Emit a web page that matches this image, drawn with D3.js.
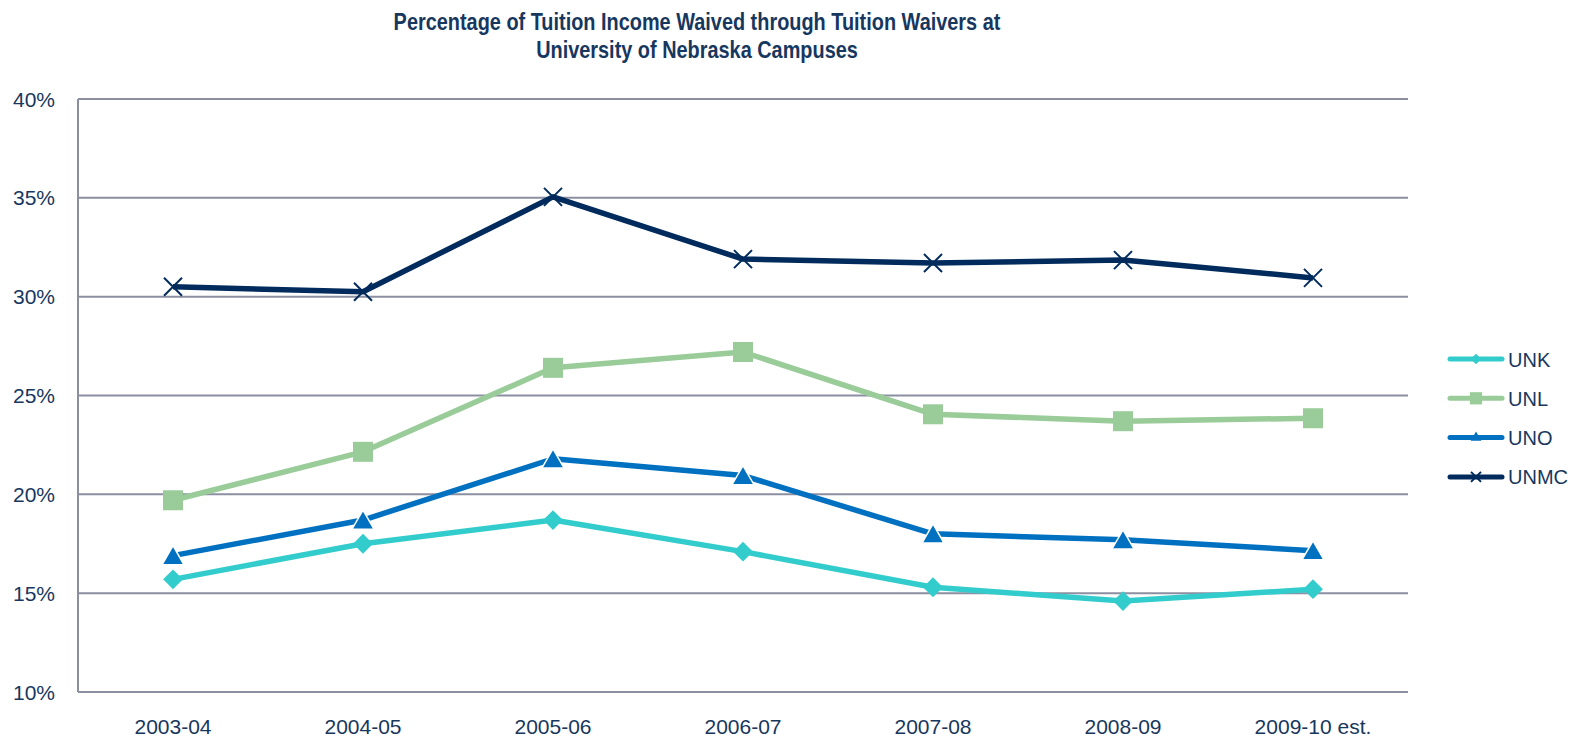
<html>

<head>
  <title>Tuition Waivers</title>
  <script type="text/javascript" src="https://cdn.jsdelivr.net/npm/d3@7"></script>

  <style type="text/css">
    body { margin: 0; background: #fff; }
    text { font-family: "Liberation Sans", Arial, sans-serif; fill: #17375e; }
    .grid line { stroke: #8c8fa1; stroke-width: 2; }
    .series { fill: none; stroke-width: 5.5; stroke-linejoin: round; }
  </style>
</head>

<body>
  <script>
  // Width and height
  const w = 1586;
  const h = 739;
  const margin = { top: 99, right: 178, bottom: 47, left: 78 };

  // Data (percent)
  const years = ["2003-04", "2004-05", "2005-06", "2006-07", "2007-08", "2008-09", "2009-10 est."];
  const unk = [15.7, 17.5, 18.7, 17.1, 15.3, 14.6, 15.2];
  const unl = [19.7, 22.15, 26.4, 27.2, 24.05, 23.7, 23.85];
  const uno = [16.9, 18.7, 21.8, 20.95, 18.0, 17.7, 17.15];
  const unmc = [30.5, 30.25, 35.05, 31.9, 31.7, 31.85, 30.95];
  const seriesNames = ["UNK", "UNL", "UNO", "UNMC"];
  const yTicks = [10, 15, 20, 25, 30, 35, 40];

  const series = [
    { name: "UNK", values: unk, color: "#33cccc", marker: "diamond" },
    { name: "UNL", values: unl, color: "#99cc99", marker: "square" },
    { name: "UNO", values: uno, color: "#0070c0", marker: "triangle" },
    { name: "UNMC", values: unmc, color: "#002b5c", marker: "cross" }
  ];

  const xScale = d3.scaleBand()
    .domain(years)
    .range([margin.left, w - margin.right]);

  const xc = function(d) { return xScale(d) + xScale.bandwidth() / 2; };

  const yScale = d3.scaleLinear()
    .domain([10, 40])
    .range([h - margin.bottom, margin.top]);

  const svg = d3.select("body")
    .append("svg")
    .attr("width", w)
    .attr("height", h);

  // Title (slightly condensed, like the original)
  const title = svg.append("g")
    .attr("transform", "translate(697,0) scale(0.865,1)")
    .append("text")
    .attr("x", 0)
    .attr("y", 30)
    .attr("text-anchor", "middle")
    .style("font-size", "23px")
    .style("font-weight", "bold");
  title.append("tspan").attr("x", 0).text("Percentage of Tuition Income Waived through Tuition Waivers at");
  title.append("tspan").attr("x", 0).attr("dy", 28.5).text("University of Nebraska Campuses");

  // Gridlines
  svg.append("g")
    .attr("class", "grid")
    .selectAll("line")
    .data(yTicks)
    .enter()
    .append("line")
    .attr("x1", margin.left)
    .attr("x2", w - margin.right)
    .attr("y1", function(d) { return yScale(d); })
    .attr("y2", function(d) { return yScale(d); });

  // Y axis line
  svg.append("line")
    .attr("x1", margin.left).attr("x2", margin.left)
    .attr("y1", yScale(40)).attr("y2", yScale(10))
    .attr("stroke", "#8c8fa1")
    .attr("stroke-width", 2);

  // Y labels
  svg.append("g")
    .selectAll("text")
    .data(yTicks)
    .enter()
    .append("text")
    .attr("x", 55)
    .attr("y", function(d) { return yScale(d) + 7.5; })
    .attr("text-anchor", "end")
    .style("font-size", "21px")
    .text(function(d) { return d + "%"; });

  // X labels
  svg.append("g")
    .selectAll("text")
    .data(years)
    .enter()
    .append("text")
    .attr("x", xc)
    .attr("y", 734)
    .attr("text-anchor", "middle")
    .style("font-size", "21px")
    .text(function(d) { return d; });

  // Marker shapes (area in px^2, cross uses half-span)
  const markerPath = function(type, a) {
    if (type === "diamond") return d3.symbol().type(d3.symbolDiamond2).size(a)();
    if (type === "square") return d3.symbol().type(d3.symbolSquare).size(a)();
    if (type === "triangle") return d3.symbol().type(d3.symbolTriangle).size(a)();
    const r = a;
    return "M" + (-r) + "," + (-r) + "L" + r + "," + r + "M" + (-r) + "," + r + "L" + r + "," + (-r);
  };
  const plotSize = { diamond: 250, square: 400, triangle: 210, cross: 9 };
  const legendSize = { diamond: 70, square: 150, triangle: 50, cross: 5 };
  const plotShift = { diamond: 0, square: 0, triangle: 2.8, cross: 0 };

  const line = d3.line()
    .x(function(d, i) { return xc(years[i]); })
    .y(function(d) { return yScale(d); });

  series.forEach(function(s) {
    svg.append("path")
      .datum(s.values)
      .attr("class", "series")
      .attr("stroke", s.color)
      .attr("d", line);

    svg.append("g")
      .selectAll("path")
      .data(s.values)
      .enter()
      .append("path")
      .attr("transform", function(d, i) {
        return "translate(" + xc(years[i]) + "," + (yScale(d) + plotShift[s.marker]) + ")";
      })
      .attr("d", markerPath(s.marker, plotSize[s.marker]))
      .attr("fill", s.marker === "cross" ? "none" : s.color)
      .attr("stroke", s.marker === "cross" ? s.color : (s.marker === "triangle" ? "#fff" : "none"))
      .attr("stroke-width", s.marker === "cross" ? 2 : 1.5);
  });

  // Legend
  const legend = svg.append("g")
    .selectAll("g")
    .data(series)
    .enter()
    .append("g")
    .attr("transform", function(d, i) { return "translate(1448," + (359 + i * 39.3) + ")"; });

  legend.append("line")
    .attr("x1", 2).attr("x2", 54)
    .attr("stroke", function(d) { return d.color; })
    .attr("stroke-width", 5)
    .attr("stroke-linecap", "round");

  legend.append("path")
    .attr("transform", "translate(28,0)")
    .attr("d", function(d) { return markerPath(d.marker, legendSize[d.marker]); })
    .attr("fill", function(d) { return d.marker === "cross" ? "none" : d.color; })
    .attr("stroke", function(d) { return d.marker === "cross" ? d.color : "none"; })
    .attr("stroke-width", 2);

  legend.append("text")
    .attr("x", 60)
    .attr("y", 7.5)
    .style("font-size", "20px")
    .text(function(d, i) { return seriesNames[i]; });
  </script>
</body>

</html>
